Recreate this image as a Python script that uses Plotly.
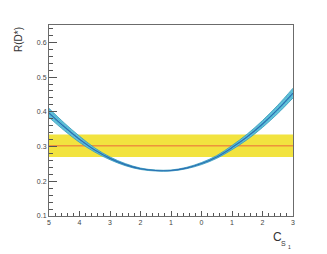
import plotly.graph_objects as go

# C_S1 values and R(D*) readings
c_s1 = [-5, -4.5, -4, -3.5, -3, -2.5, -2, -1.5, -1, -0.5, 0, 0.5, 1, 1.5, 2, 2.5, 3]
r_dstar = [0.397, 0.357, 0.321, 0.290, 0.266, 0.248, 0.236, 0.231, 0.231, 0.238, 0.251, 0.270, 0.297, 0.328, 0.365, 0.407, 0.454]
r_err = [0.013, 0.011, 0.009, 0.006, 0.004, 0.003, 0.002, 0.0015, 0.0015, 0.002, 0.003, 0.004, 0.006, 0.008, 0.010, 0.012, 0.014]

# measured R(D*) band
exp_x = [-5, 3]
exp_central = [0.302, 0.302]
exp_low = [0.270, 0.270]
exp_high = [0.335, 0.335]

# axis tick labels
x_tickvals = [-5, -4, -3, -2, -1, 0, 1, 2, 3]
x_ticktext = ["5", "4", "3", "2", "1", "0", "1", "2", "3"]
y_tickvals = [0.1, 0.2, 0.3, 0.4, 0.5, 0.6]
y_ticktext = ["0.1", "0.2", "0.3", "0.4", "0.5", "0.6"]

upper = [v + e for v, e in zip(r_dstar, r_err)]
lower = [v - e for v, e in zip(r_dstar, r_err)]

fig = go.Figure()
fig.add_trace(go.Scatter(x=exp_x, y=exp_low, mode="lines", line=dict(width=0, color="#f2e33f"),
                         showlegend=False, hoverinfo="skip"))
fig.add_trace(go.Scatter(x=exp_x, y=exp_high, mode="lines", line=dict(width=0, color="#f2e33f"),
                         fill="tonexty", fillcolor="#f2e33f", showlegend=False, hoverinfo="skip"))
fig.add_trace(go.Scatter(x=exp_x, y=exp_central, mode="lines", line=dict(width=1, color="#ec6a3a"),
                         showlegend=False))
fig.add_trace(go.Scatter(x=c_s1, y=lower, mode="lines", line=dict(width=0.8, color="#3398bb", shape="spline"),
                         showlegend=False, hoverinfo="skip"))
fig.add_trace(go.Scatter(x=c_s1, y=upper, mode="lines", line=dict(width=0.8, color="#3398bb", shape="spline"),
                         fill="tonexty", fillcolor="#5ec4da",
                         fillpattern=dict(shape="x", fgcolor="#2d86ab", bgcolor="#63c6dc", size=3, solidity=0.25),
                         showlegend=False, hoverinfo="skip"))
fig.add_trace(go.Scatter(x=c_s1, y=r_dstar, mode="lines", line=dict(width=1.2, color="#2a6fb3", shape="spline"),
                         showlegend=False))

axis_common = dict(showgrid=False, zeroline=False, showline=True, linecolor="#6b6b6b", linewidth=1,
                   mirror=True, ticks="inside", tickcolor="#555", tickfont=dict(size=7, color="#444",
                   family="Liberation Sans Narrow, Liberation Sans, sans-serif"))

fig.update_xaxes(range=[-5, 3], tickvals=x_tickvals, ticktext=x_ticktext, ticklen=5, tickwidth=1,
                 minor=dict(ticks="inside", dtick=0.2, ticklen=3, tickcolor="#555", tickwidth=1), **axis_common)
fig.update_yaxes(range=[0.1, 0.65], tickvals=y_tickvals, ticktext=y_ticktext, ticklen=8, tickwidth=1,
                 minor=dict(ticks="inside", dtick=0.02, ticklen=4, tickcolor="#555", tickwidth=1), **axis_common)

fig.add_annotation(text="R(D*)", xref="paper", yref="paper", x=-0.156, y=1.0, textangle=-90,
                   showarrow=False, font=dict(size=10, color="#333", family="Liberation Sans, sans-serif"))
fig.add_annotation(text="C", xref="paper", yref="paper", x=0.935, y=-0.11, xanchor="center", yanchor="middle",
                   showarrow=False, font=dict(size=12, color="#333", family="Liberation Sans, sans-serif"))
fig.add_annotation(text="S", xref="paper", yref="paper", x=0.962, y=-0.145, xanchor="center", yanchor="middle",
                   showarrow=False, font=dict(size=7, color="#333", family="Liberation Sans, sans-serif"))
fig.add_annotation(text="1", xref="paper", yref="paper", x=0.984, y=-0.162, xanchor="center", yanchor="middle",
                   showarrow=False, font=dict(size=5, color="#333", family="Liberation Sans, sans-serif"))

fig.update_layout(width=319, height=246, margin=dict(l=41, r=34, t=17, b=38),
                  plot_bgcolor="white", paper_bgcolor="white")
fig.write_html("out.html")
